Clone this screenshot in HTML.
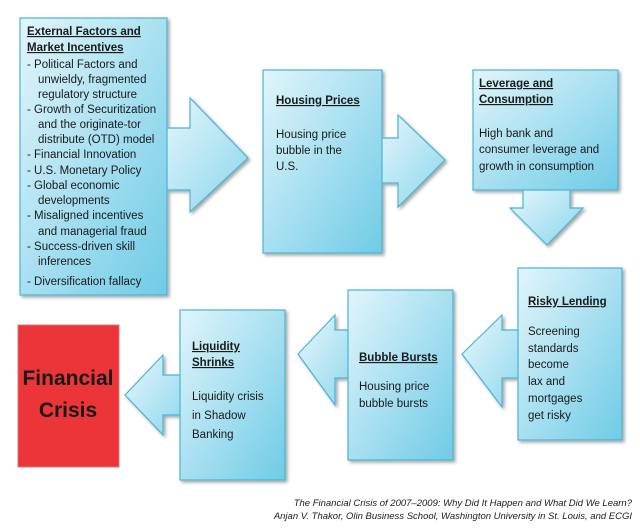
<!DOCTYPE html>
<html><head><meta charset="utf-8"><style>
html,body{margin:0;padding:0;background:#fff;}
svg{display:block;}
text{font-family:"Liberation Sans",sans-serif;fill:#1a1a1a;}
.h{font-weight:bold;text-decoration:underline;}
</style></head><body>
<svg width="640" height="529" viewBox="0 0 640 529" xmlns="http://www.w3.org/2000/svg">
<defs>
<linearGradient id="g" x1="0" y1="0" x2="1" y2="1">
<stop offset="0" stop-color="#e2f5fb"/><stop offset="1" stop-color="#6fcbe6"/>
</linearGradient>
<linearGradient id="ga" x1="0" y1="0" x2="1" y2="1">
<stop offset="0" stop-color="#e8f7fc"/><stop offset="1" stop-color="#8ad6ec"/>
</linearGradient>
<filter id="s" x="-10%" y="-10%" width="130%" height="130%"><feDropShadow dx="2" dy="2" stdDeviation="1.5" flood-color="#000" flood-opacity="0.35"/></filter>
</defs>
<g stroke="#4ab3d3" stroke-width="1.2" filter="url(#s)">
<polygon fill="url(#ga)" points="160,128 190,128 190,98 248,158 190,212 190,190 160,190"/>
<polygon fill="url(#ga)" points="375,138 398,138 398,115 445,160 398,207 398,183 375,183"/>
<polygon fill="url(#ga)" points="523,185 570,185 570,208 583,208 547,245 510,208 523,208"/>
<polygon fill="url(#ga)" points="525,330 502,330 502,315 462,354 502,407 502,378 525,378"/>
<polygon fill="url(#ga)" points="355,330 335,330 335,315 298,354 335,405 335,378 355,378"/>
<polygon fill="url(#ga)" points="185,375 163,375 163,355 125,395 163,435 163,415 185,415"/>
<rect x="20" y="18" width="147" height="277" fill="url(#g)"/>
<rect x="263" y="70" width="119" height="183" fill="url(#g)"/>
<rect x="473" y="70" width="145" height="120" fill="url(#g)"/>
<rect x="518" y="268" width="104" height="172" fill="url(#g)"/>
<rect x="348" y="290" width="105" height="170" fill="url(#g)"/>
<rect x="180" y="310" width="105" height="170" fill="url(#g)"/>
</g>
<rect x="18" y="325" width="101" height="142" fill="#ec3539" stroke="#d9777a" stroke-width="1"/>
<text x="68" y="385" text-anchor="middle" font-size="21" font-weight="bold" fill="#111">Financial</text>
<text x="68" y="417" text-anchor="middle" font-size="21" font-weight="bold" fill="#111">Crisis</text>

<g font-size="11.5">
<text x="27" y="35" class="h">External Factors and</text>
<text x="27" y="51" class="h">Market Incentives</text>
<text x="27" y="68">-  Political Factors and</text>
<text x="38" y="83">unwieldy, fragmented</text>
<text x="38" y="98">regulatory structure</text>
<text x="27" y="113">-  Growth of Securitization</text>
<text x="38" y="128">and the originate-tor</text>
<text x="38" y="143">distribute (OTD) model</text>
<text x="27" y="158">- Financial Innovation</text>
<text x="27" y="174">- U.S. Monetary Policy</text>
<text x="27" y="189">-  Global economic</text>
<text x="38" y="204">developments</text>
<text x="27" y="219">-  Misaligned incentives</text>
<text x="38" y="235">and managerial fraud</text>
<text x="27" y="250">-  Success-driven skill</text>
<text x="38" y="265">inferences</text>
<text x="27" y="285">-  Diversification fallacy</text>

<text x="276" y="104" class="h">Housing Prices</text>
<text x="276" y="138">Housing price</text>
<text x="276" y="154">bubble in the</text>
<text x="276" y="170">U.S.</text>

<text x="479" y="87" class="h">Leverage and</text>
<text x="479" y="103" class="h">Consumption</text>
<text x="479" y="137">High bank and</text>
<text x="479" y="153">consumer leverage and</text>
<text x="479" y="170">growth in consumption</text>

<text x="528" y="305" class="h">Risky Lending</text>
<text x="528" y="335">Screening</text>
<text x="528" y="352">standards</text>
<text x="528" y="368">become</text>
<text x="528" y="385">lax and</text>
<text x="528" y="402">mortgages</text>
<text x="528" y="419">get risky</text>

<text x="359" y="361" class="h">Bubble Bursts</text>
<text x="359" y="390">Housing price</text>
<text x="359" y="407">bubble bursts</text>

<text x="192" y="350" class="h">Liquidity</text>
<text x="192" y="366" class="h">Shrinks</text>
<text x="192" y="400">Liquidity crisis</text>
<text x="192" y="419">in Shadow</text>
<text x="192" y="438">Banking</text>
</g>
<g font-size="9.5" font-style="italic" fill="#222">
<text x="632" y="506" text-anchor="end">The Financial Crisis of 2007–2009: Why Did It Happen and What Did We Learn?</text>
<text x="632" y="519" text-anchor="end">Anjan V. Thakor, Olin Business School, Washington University in St. Louis, and ECGI</text>
</g>
</svg>
</body></html>
